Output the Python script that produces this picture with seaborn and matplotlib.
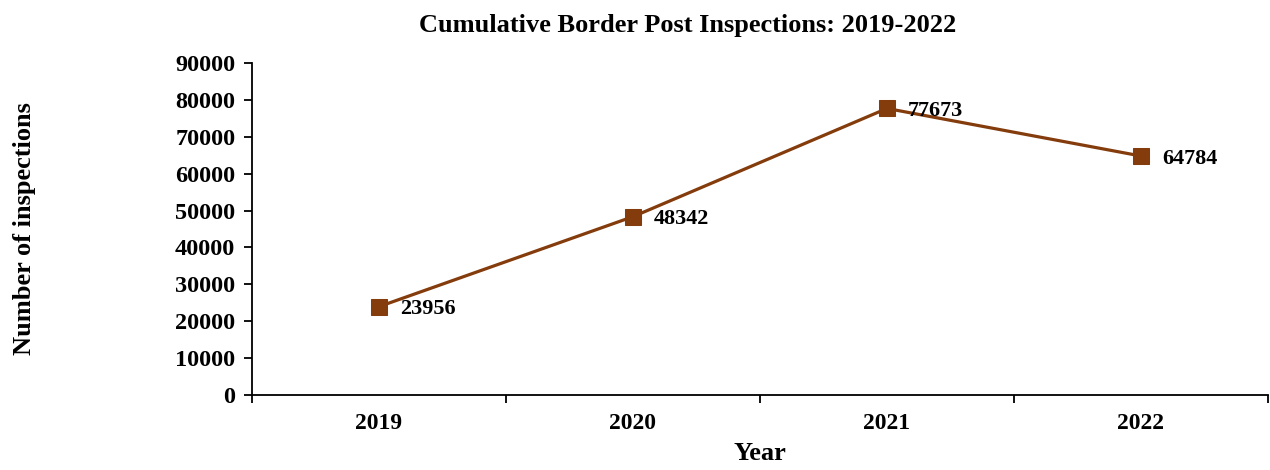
import numpy as np
import pandas as pd
import seaborn as sns
import matplotlib.pyplot as plt

years = ["2019", "2020", "2021", "2022"]
inspections = [23956, 48342, 77673, 64784]

sns.set_theme(style="white")
plt.rcParams['font.family'] = ['Liberation Serif', 'DejaVu Serif']
plt.rcParams['font.weight'] = 'bold'
plt.rcParams['text.color'] = 'black'
plt.rcParams['axes.labelcolor'] = 'black'
plt.rcParams['xtick.color'] = 'black'
plt.rcParams['ytick.color'] = 'black'

df = pd.DataFrame({"Year": years, "Inspections": inspections})
df["pos"] = np.arange(len(years))

fig = plt.figure(figsize=(12.7, 4.7), dpi=100)
ax = fig.add_axes([0.1984, 0.1596, 0.8, 0.7064])

line_col = "#843C0C"
sns.lineplot(data=df, x="pos", y="Inspections", ax=ax, color=line_col,
             linewidth=2.3, marker="s", markersize=11, markeredgecolor=line_col)

for i, v in enumerate(inspections):
    ax.annotate(str(v), (i, v), xytext=(15, -2), textcoords="offset points",
                ha="left", va="center", fontsize=16, fontweight="bold")

ax.set_xlim(-0.5, len(years) - 0.5)
ax.set_ylim(0, 90000)
ax.set_yticks(np.arange(0, 90001, 10000))
ax.set_yticklabels([str(t) for t in range(0, 90001, 10000)], fontsize=17.5, fontweight="bold")
ax.set_xticks(np.arange(-0.5, len(years), 1))
ax.set_xticklabels([])
ax.set_xticks(np.arange(len(years)), minor=True)
ax.set_xticklabels(years, minor=True, fontsize=17, fontweight="bold")
ax.tick_params(axis="x", which="major", direction="out", length=6, width=1.3, bottom=True)
ax.tick_params(axis="x", which="minor", length=0, pad=13)
ax.tick_params(axis="y", direction="out", length=6, width=1.3, left=True, pad=6)

for s in ["top", "right"]:
    ax.spines[s].set_visible(False)
for s in ["left", "bottom"]:
    ax.spines[s].set_color("black")
    ax.spines[s].set_linewidth(1.3)

ax.set_xlabel("Year", fontsize=19, fontweight="bold", labelpad=6)
ax.set_ylabel("Number of inspections", fontsize=19, fontweight="bold", labelpad=100)
ax.set_title("Cumulative Border Post Inspections: 2019-2022", fontsize=19,
             fontweight="bold", pad=22, x=0.429)

fig.savefig("out.png", dpi=100)
